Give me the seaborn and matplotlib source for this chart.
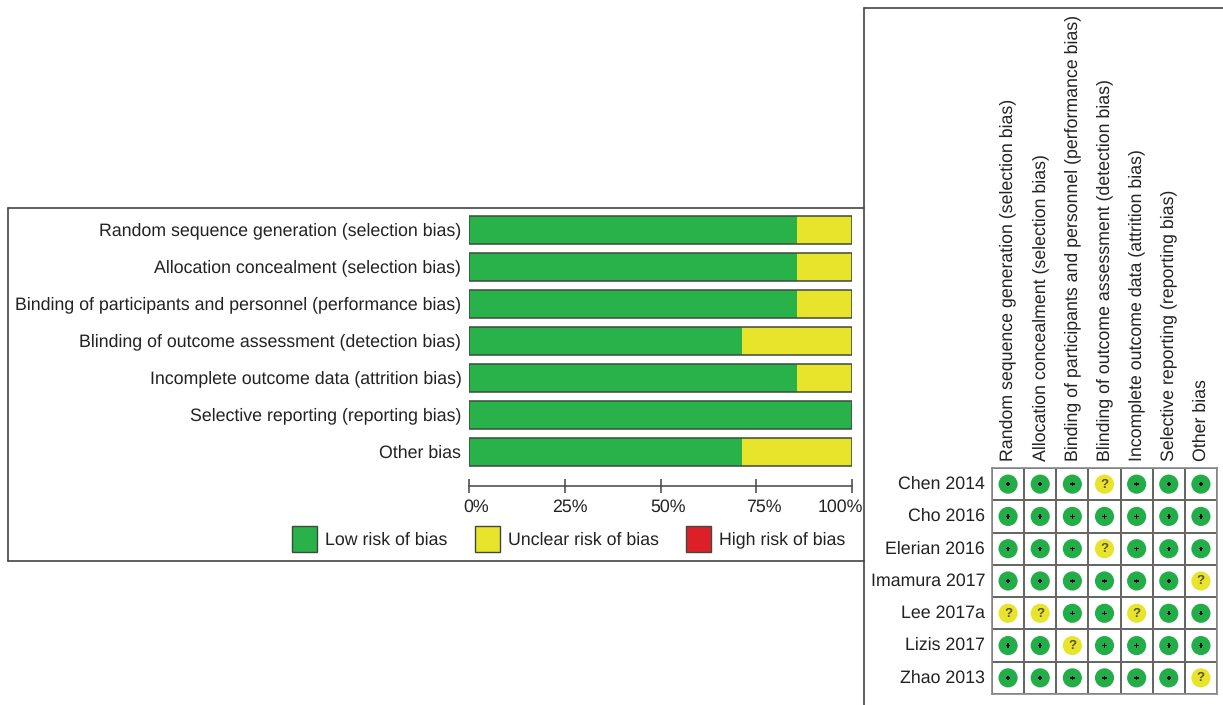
import matplotlib
matplotlib.use("Agg")
import matplotlib.pyplot as plt
import matplotlib.transforms as mtrans
import pandas as pd
import seaborn as sns
from matplotlib.lines import Line2D
from matplotlib.patches import Patch

sns.set_style("white")
plt.rcParams["font.family"] = ["Liberation Sans", "DejaVu Sans"]
plt.rcParams["text.hinting"] = "no_hinting"

domains = [
    "Random sequence generation (selection bias)",
    "Allocation concealment (selection bias)",
    "Binding of participants and personnel (performance bias)",
    "Blinding of outcome assessment (detection bias)",
    "Incomplete outcome data (attrition bias)",
    "Selective reporting (reporting bias)",
    "Other bias",
]
low_risk = [85.7, 85.7, 85.7, 71.4, 85.7, 100, 71.4]
unclear_risk = [14.3, 14.3, 14.3, 28.6, 14.3, 0, 28.6]
pct_ticks = [0, 25, 50, 75, 100]

studies = ["Chen 2014", "Cho 2016", "Elerian 2016", "Imamura 2017", "Lee 2017a", "Lizis 2017", "Zhao 2013"]
# one string per study, one letter per domain (L = low, U = unclear)
judgements = ["LLLULLL", "LLLLLLL", "LLLULLL", "LLLLLLU", "UULLULL", "LLULLLL", "LLLLLLU"]

GREEN = "#29b24a"
YELLOW = "#e8e42c"
RED = "#dd2027"
EDGE = "#3d4a3f"
W, H = 1223, 705
FS = 12.8


def px_axes(x0, y0, x1, y1):
    return fig.add_axes([x0 / W, 1 - y1 / H, (x1 - x0) / W, (y1 - y0) / H])


fig = plt.figure(figsize=(W / 100, H / 100), dpi=100)

# =========================
# summary bars
# =========================
bars = pd.DataFrame({"domain": domains, "low": low_risk, "unclear": unclear_risk})
bars["total"] = bars["low"] + bars["unclear"]

ax = px_axes(469, 211.5, 852, 486)
sns.barplot(data=bars, y="domain", x="total", color=YELLOW, saturation=1, width=0.76, linewidth=0, ax=ax)
sns.barplot(data=bars, y="domain", x="low", color=GREEN, saturation=1, width=0.76, linewidth=0, ax=ax)
sns.barplot(data=bars, y="domain", x="total", fill=False, edgecolor=EDGE, linewidth=1.1, width=0.76, ax=ax)
ax.set_xlim(0, 100)
ax.set_ylim(6.92, -0.5)
ax.set_xlabel("")
ax.set_ylabel("")
ax.set_xticks(pct_ticks)
ax.set_xticklabels([f"{t}%" for t in pct_ticks], fontsize=FS, color="#222222")
ax.tick_params(axis="x", direction="inout", length=10, width=1.1, color="#444444", bottom=True, pad=4)
ax.tick_params(axis="y", length=0, pad=5.5, labelsize=FS, labelcolor="#222222")
# the percent labels sit a little off their ticks in the original
for lab, shift in zip(ax.get_xticklabels(), [7, 5, 8, 8, -12]):
    lab.set_transform(lab.get_transform() + mtrans.ScaledTranslation(shift / 100, 0, fig.dpi_scale_trans))
for lab in ax.get_yticklabels():
    lab.set_transform(lab.get_transform() + mtrans.ScaledTranslation(0, 1 / 100, fig.dpi_scale_trans))
for side in ["top", "left", "right"]:
    ax.spines[side].set_visible(False)
ax.spines["bottom"].set_color("#444444")
ax.spines["bottom"].set_linewidth(1.1)

handles = [
    Patch(facecolor=GREEN, edgecolor=EDGE, label="Low risk of bias"),
    Patch(facecolor=YELLOW, edgecolor=EDGE, label="Unclear risk of bias"),
    Patch(facecolor=RED, edgecolor=EDGE, label="High risk of bias"),
]
fig.legend(
    handles=handles,
    ncols=3,
    loc="center left",
    bbox_to_anchor=(292 / W, 1 - 539 / H),
    frameon=False,
    fontsize=FS,
    borderpad=0,
    borderaxespad=0,
    handlelength=1.4,
    handleheight=1.83,
    handletextpad=0.45,
    columnspacing=1.55,
    labelcolor="#222222",
)

# =========================
# traffic light grid
# =========================
grid = pd.DataFrame([list(j) for j in judgements], index=studies, columns=domains)
blank = pd.DataFrame(0, index=studies, columns=domains)

ax2 = px_axes(992, 468, 1217, 694)
sns.heatmap(blank, cmap=["white"], cbar=False, linewidths=1.2, linecolor="#666666", ax=ax2)
ax2.xaxis.tick_top()
ax2.set_xticklabels(domains, rotation=90, fontsize=FS, color="#222222")
ax2.set_yticklabels(studies, rotation=0, fontsize=FS, color="#222222")
ax2.tick_params(axis="both", length=0)
ax2.tick_params(axis="x", pad=5)
ax2.tick_params(axis="y", pad=5)
for side in ax2.spines:
    ax2.spines[side].set_visible(True)
    ax2.spines[side].set_color("#8a8a8a")
    ax2.spines[side].set_linewidth(1.2)

long = grid.reset_index(names="study").melt(id_vars="study", var_name="domain", value_name="risk")
long["col"] = long["domain"].map(domains.index) + 0.5
long["row"] = long["study"].map(studies.index) + 0.5
sns.scatterplot(
    data=long,
    x="col",
    y="row",
    hue="risk",
    palette={"L": "#22ad48", "U": YELLOW},
    s=190,
    edgecolor="none",
    legend=False,
    ax=ax2,
)
lows = long[long["risk"] == "L"]
sns.scatterplot(data=lows, x="col", y="row", marker="P", s=10, color="#101010", edgecolor="none", legend=False, ax=ax2)
for _, r in long[long["risk"] == "U"].iterrows():
    ax2.text(r["col"], r["row"], "?", ha="center", va="center", fontsize=9.5, fontweight="bold", color="#5a5530")
ax2.set_xlabel("")
ax2.set_ylabel("")

# =========================
# panel frames
# =========================
frame = "#444444"
segments = [
    ((8, 8), (208, 561)),
    ((8, 864), (208, 208)),
    ((8, 864), (561, 561)),
    ((864, 864), (8, 705)),
    ((864, 1223), (8, 8)),
]
for xs, ys in segments:
    fig.add_artist(
        Line2D([x / W for x in xs], [1 - y / H for y in ys], color=frame, linewidth=1.2, transform=fig.transFigure)
    )

fig.savefig("out.png", dpi=100, facecolor="white")
